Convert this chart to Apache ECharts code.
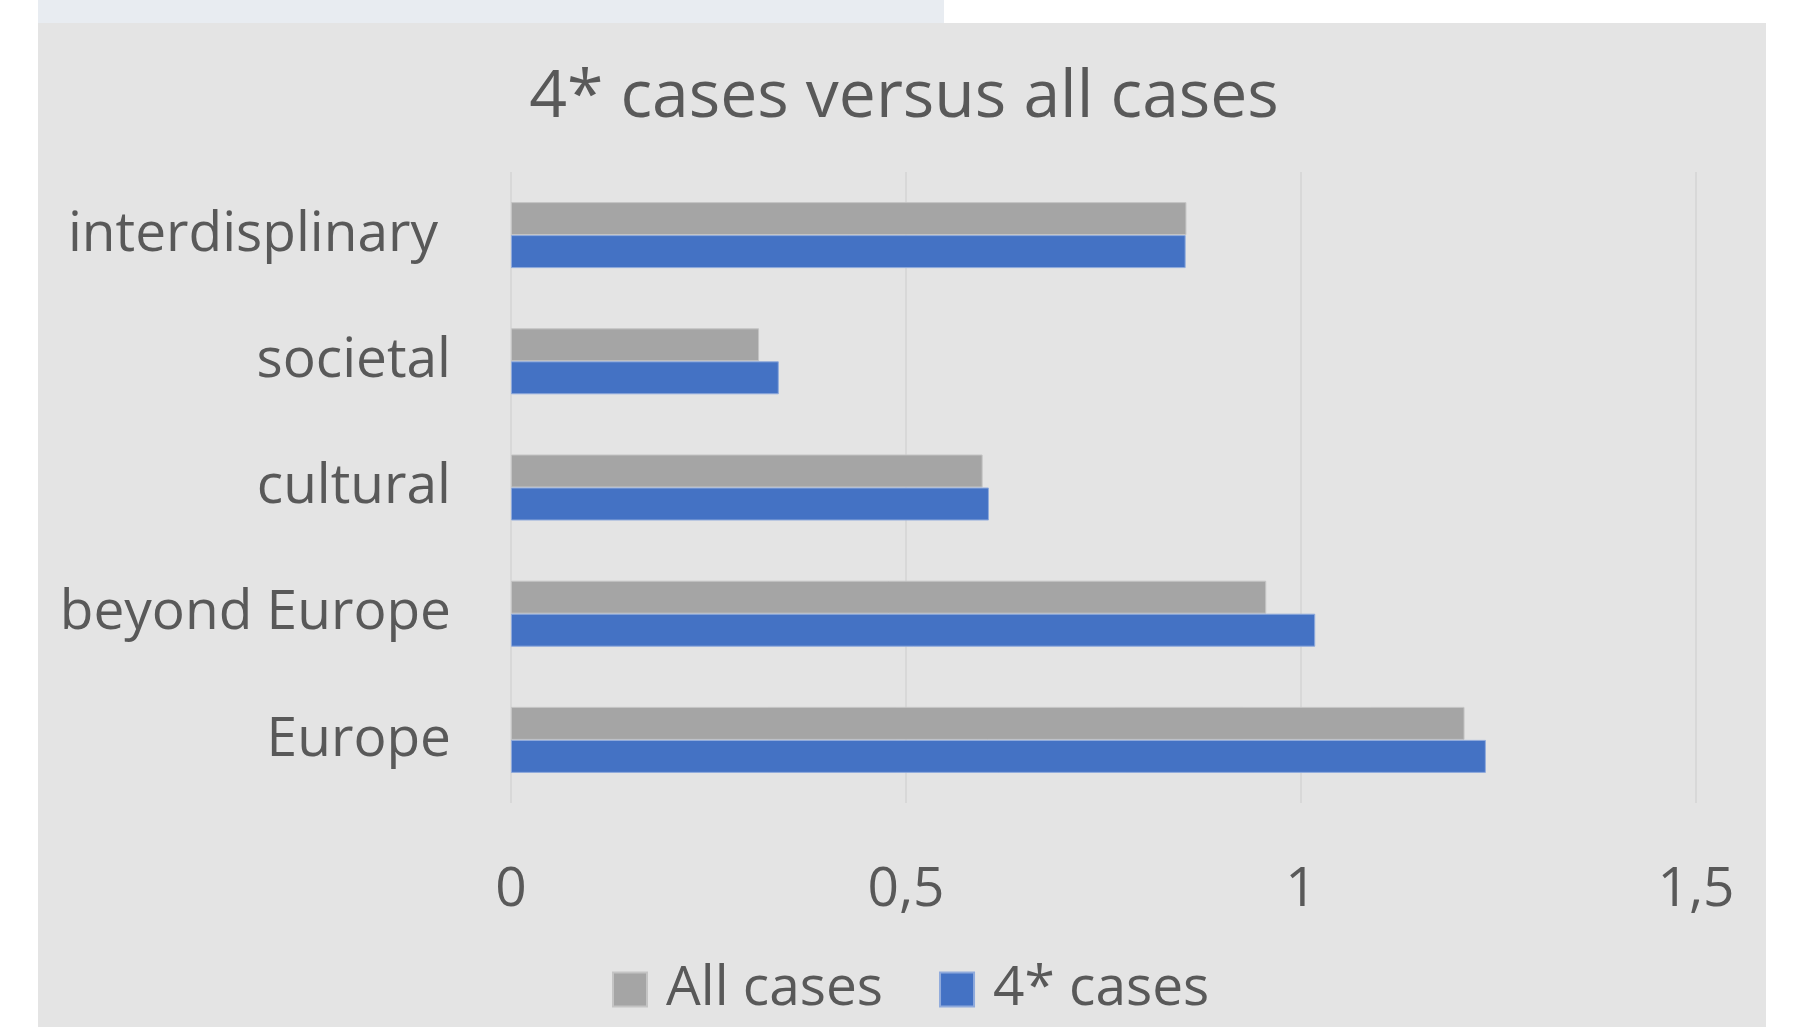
<!DOCTYPE html>
<html>
<head>
<meta charset="utf-8">
<title>4* cases versus all cases</title>
<script src="https://cdn.jsdelivr.net/npm/echarts@6/dist/echarts.min.js"></script>
<style>
  html, body { margin: 0; padding: 0; background: #ffffff; }
  #strip { position: absolute; left: 38px; top: 0; width: 906px; height: 23px; background: #e8ecf1; }
  #panel { position: absolute; left: 38px; top: 23px; width: 1728px; height: 1004px; background: #e4e4e4; }
  #chart { position: absolute; left: 0; top: 0; width: 1798px; height: 1027px; }
</style>
</head>
<body>
<div id="strip"></div>
<div id="panel"></div>
<div id="chart"></div>
<script>
// categories, top to bottom
const categories = ['interdisplinary', 'societal', 'cultural', 'beyond Europe', 'Europe']
const allCases = [0.855, 0.314, 0.597, 0.956, 1.207]
const starCases = [0.854, 0.339, 0.605, 1.018, 1.234]
const xTicks = [0, 0.5, 1, 1.5]

const textColor = '#595959'
const font = 'Open Sans'

const chart = echarts.init(document.getElementById('chart'))
chart.setOption({
  animation: false,
  backgroundColor: 'transparent',
  textStyle: { fontFamily: font },
  title: {
    text: '4* cases versus all cases',
    left: 899,
    top: 60,
    textAlign: 'center',
    textStyle: { color: textColor, fontSize: 66, fontWeight: 'normal', fontFamily: font }
  },
  legend: {
    data: ['All cases', '4* cases'],
    left: 607,
    top: 957,
    itemWidth: 34,
    itemHeight: 34,
    itemGap: 56,
    icon: 'rect',
    textStyle: { color: textColor, fontSize: 55, fontFamily: font, padding: [0, 0, 0, 14] }
  },
  grid: { left: 511, right: 102, top: 172, bottom: 224 },
  xAxis: {
    type: 'value',
    min: xTicks[0],
    max: xTicks[xTicks.length - 1],
    interval: 0.5,
    axisLine: { show: false },
    axisTick: { show: false },
    splitLine: { lineStyle: { color: '#d4d4d4', width: 1.5 } },
    axisLabel: {
      color: textColor,
      fontSize: 55,
      fontFamily: font,
      margin: 60,
      formatter: v => String(v).replace('.', ',')
    }
  },
  yAxis: {
    type: 'category',
    inverse: true,
    data: categories,
    axisLine: { show: false },
    axisTick: { show: false },
    axisLabel: {
      color: textColor,
      fontSize: 55,
      fontFamily: font,
      margin: 60,
      formatter: v => v === 'interdisplinary' ? '{shift|' + v + '}' : v,
      rich: {
        shift: { color: textColor, fontSize: 55, fontFamily: font, padding: [0, 13, 0, 0] }
      }
    }
  },
  series: [
    {
      name: 'All cases',
      type: 'bar',
      data: allCases,
      barWidth: 33,
      barGap: '0%',
      itemStyle: { color: '#a5a5a5', borderColor: '#c4c4c4', borderWidth: 1 }
    },
    {
      name: '4* cases',
      type: 'bar',
      data: starCases,
      barWidth: 33,
      barGap: '0%',
      itemStyle: { color: '#4472c4', borderColor: '#8faadc', borderWidth: 1 }
    }
  ]
})
</script>
</body>
</html>
